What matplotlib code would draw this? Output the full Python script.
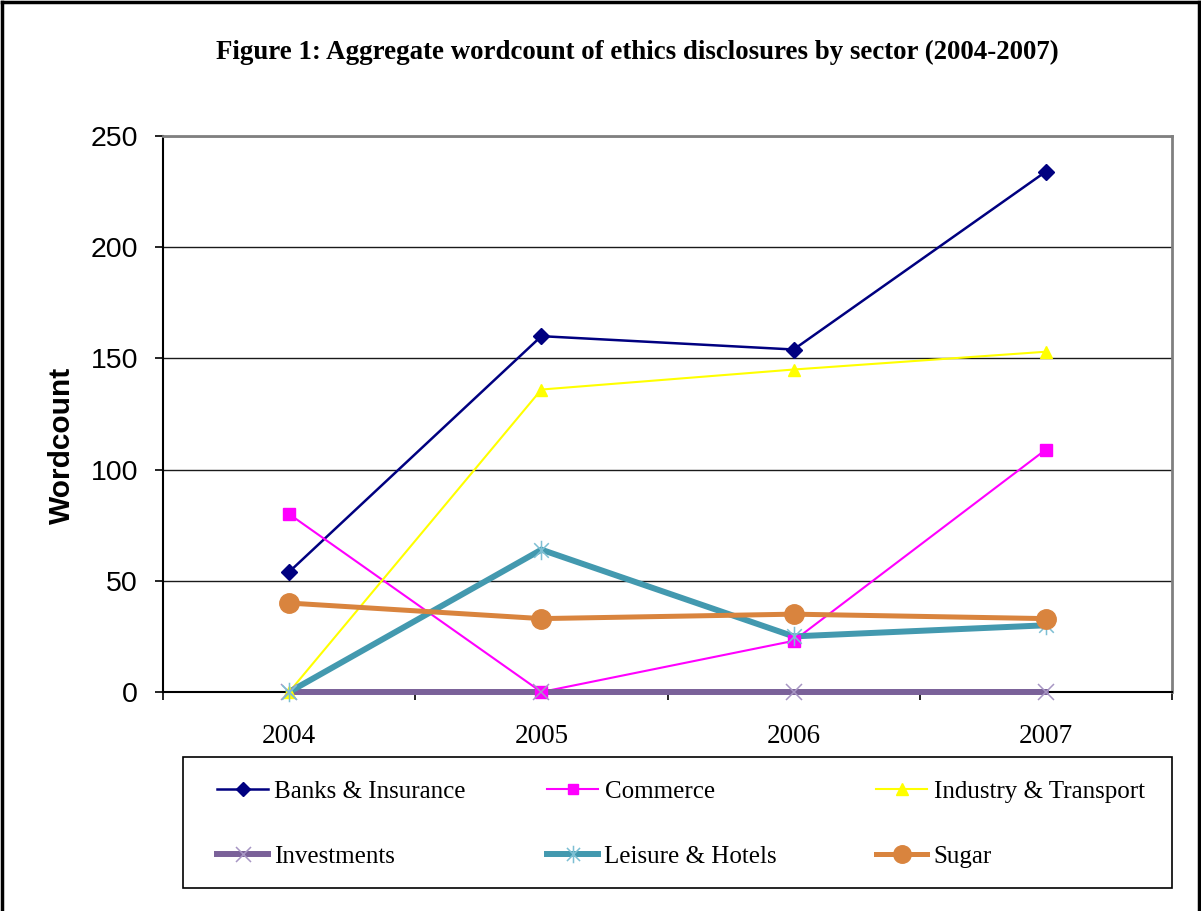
import numpy as np
import matplotlib
matplotlib.use("Agg")
from matplotlib import pyplot as plt
from matplotlib.legend import Legend
from matplotlib.lines import Line2D
from matplotlib.patches import Rectangle
from matplotlib.path import Path

years = ["2004", "2005", "2006", "2007"]
sectors = ["Banks & Insurance", "Commerce", "Industry & Transport",
           "Investments", "Leisure & Hotels", "Sugar"]

banks = [54, 160, 154, 234]
commerce = [80, 0, 23, 109]
industry = [0, 136, 145, 153]
investments = [0, 0, 0, 0]
leisure = [0, 64, 25, 30]
sugar = [40, 33, 35, 33]

series = [banks, commerce, industry, investments, leisure, sugar]

# asterisk: vertical stroke plus a cross
star = Path([(0, -1), (0, 1), (-0.75, -0.75), (0.75, 0.75), (-0.75, 0.75), (0.75, -0.75)],
            [Path.MOVETO, Path.LINETO, Path.MOVETO, Path.LINETO, Path.MOVETO, Path.LINETO])

styles = [
    dict(color="#000080", lw=1.8, marker="D", ms=8, mfc="#000080", mec="#000080", mew=1),
    dict(color="#FF00FF", lw=1.5, marker="s", ms=8, mfc="#FF00FF", mec="#FF00FF", mew=1),
    dict(color="#FFFF00", lw=1.5, marker="^", ms=9, mfc="#FFFF00", mec="#FFFF00", mew=1),
    dict(color="#7A6199", lw=4.3, marker="x", ms=12, mfc="none", mec="#A796C4", mew=1.1),
    dict(color="#4399AF", lw=4.3, marker=star, ms=14, mfc="none", mec="#7DBFD3", mew=1.1),
    dict(color="#D9843E", lw=3.6, marker="o", ms=14, mfc="#D9843E", mec="#D9843E", mew=1),
]

plt.rcParams["font.family"] = ["Liberation Serif", "DejaVu Serif"]

fig = plt.figure(figsize=(12.01, 9.11), dpi=100)
ax = fig.add_axes([163 / 1201, 219 / 911, 1009 / 1201, 556 / 911])

x = np.arange(len(years))
# lines first, markers on top, the way the spreadsheet draws them
for vals, st in zip(series, styles):
    ax.plot(x, vals, color=st["color"], lw=st["lw"], solid_joinstyle="miter",
            zorder=3, clip_on=False)
for vals, st in zip(series, styles):
    ax.plot(x, vals, ls="none", marker=st["marker"], ms=st["ms"], mfc=st["mfc"],
            mec=st["mec"], mew=st["mew"], zorder=4, clip_on=False)

ax.set_xlim(-0.5, 3.5)
ax.set_ylim(0, 250)
ax.set_yticks(np.arange(0, 251, 50))
ax.set_yticklabels([str(v) for v in range(0, 251, 50)], family="Liberation Sans", fontsize=20.5)
ax.yaxis.grid(True, color="#1a1a1a", lw=1.0)
ax.set_axisbelow(True)

ax.set_xticks(np.arange(-0.5, 4, 1))
ax.set_xticklabels([])
ax.set_xticks(x, minor=True)
ax.set_xticklabels(years, minor=True, fontsize=19.5)
ax.tick_params(axis="x", which="major", direction="out", length=6, width=1.2, color="black")
ax.tick_params(axis="x", which="minor", length=0, pad=23)
ax.tick_params(axis="y", direction="out", length=6, width=1.2, pad=12, color="black")

for side in ("top", "right"):
    ax.spines[side].set_color("#808080")
    ax.spines[side].set_linewidth(2)
for side in ("left", "bottom"):
    ax.spines[side].set_color("black")
    ax.spines[side].set_linewidth(1.5)

fig.text(62 / 1201, 1 - 445 / 911, "Wordcount", rotation=90, ha="center", va="center",
         family="Liberation Sans", fontweight="bold", fontsize=21.5)
fig.text(637 / 1201, 1 - 52 / 911,
         "Figure 1: Aggregate wordcount of ethics disclosures by sector (2004-2007)",
         ha="center", va="center", fontweight="bold", fontsize=19.4)

handles = [Line2D([], [], color=st["color"], lw=st["lw"], marker=st["marker"],
                  ms=st["ms"] * 0.9, mfc=st["mfc"], mec=st["mec"], mew=st["mew"])
           for st in styles]


def px(xp, yp):
    # pixel position -> axes fraction
    return (xp - 163) / 1009, (692 - yp) / 556


# legend box, then one legend per column so the columns sit on a fixed grid
x0, y0 = px(183, 888)
x1, y1 = px(1172, 757)
ax.add_patch(Rectangle((x0, y0), x1 - x0, y1 - y0, transform=ax.transAxes,
                       fill=True, facecolor="white", edgecolor="black", lw=1.2,
                       clip_on=False, zorder=5))
col_left = [217, 547, 876]
for c, xl in enumerate(col_left):
    idx = [c, c + 3]
    leg = Legend(ax, [handles[i] for i in idx], [sectors[i] for i in idx],
                 loc="center left", bbox_to_anchor=px(xl, 824),
                 fontsize=18, frameon=False, borderpad=0, labelspacing=1.7,
                 handlelength=2.05, handletextpad=0.25, borderaxespad=0)
    leg.set_zorder(6)
    ax.add_artist(leg)

# outer frame of the figure
fig.add_artist(Line2D([0.002, 0.002], [0, 0.998], color="black", lw=2.5, transform=fig.transFigure))
fig.add_artist(Line2D([0.002, 0.998], [0.998, 0.998], color="black", lw=2.5, transform=fig.transFigure))
fig.add_artist(Line2D([0.998, 0.998], [0, 0.998], color="black", lw=2.5, transform=fig.transFigure))

fig.savefig("out.png", dpi=100)
